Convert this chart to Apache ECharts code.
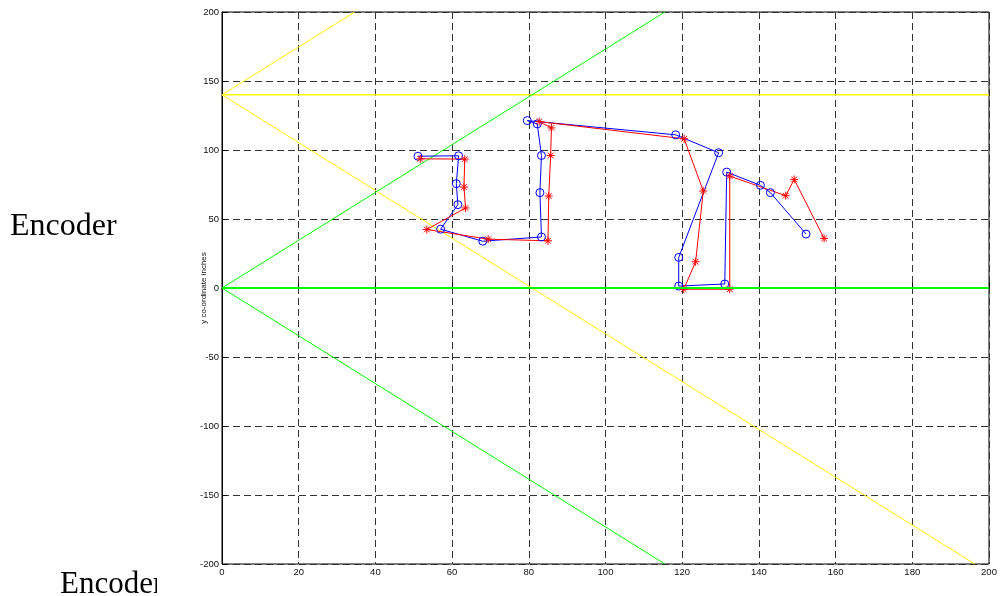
<!DOCTYPE html>
<html>
<head>
<meta charset="utf-8">
<script src="https://cdn.jsdelivr.net/npm/echarts@6/dist/echarts.min.js"></script>
<style>
  html, body { margin: 0; padding: 0; background: #fff; }
  #chart { width: 1000px; height: 596px; }
</style>
</head>
<body>
<div id="chart"></div>
<script>
// Encoder path (blue, circles) and measured path (red, asterisks), in inches
const encoderPath = [
  [51.1, 95.5], [61.7, 95.8], [61.1, 75.6], [61.5, 60.4], [57.0, 42.6],
  [68.0, 33.9], [83.3, 37.0], [82.9, 69.1], [83.3, 96.0], [82.2, 118.9],
  [79.6, 121.3], [118.3, 111.0], [129.5, 98.0], [119.1, 22.2], [119.1, 1.4],
  [131.1, 2.9], [131.6, 84.0], [140.4, 74.4], [143.0, 69.1], [152.3, 39.1]
];
const measuredPath = [
  [51.7, 93.6], [63.3, 93.4], [63.1, 73.1], [63.5, 58.0], [53.4, 42.4],
  [69.4, 35.4], [85.0, 34.2], [85.2, 66.6], [85.7, 96.0], [85.9, 116.0],
  [82.7, 120.6], [120.5, 108.1], [125.5, 70.3], [123.5, 19.0], [120.4, -0.9],
  [132.4, -0.9], [132.4, 81.1], [147.0, 66.9], [149.2, 78.7], [157.0, 35.9]
];
// Sensor field-of-view boundaries
const yellowCone = [[34.6, 200], [0, 140], [196.3, -200]];
const yellowAxis = [[0, 140], [200, 140]];
const greenCone = [[115.5, 200], [0, 0], [115.5, -200]];
const greenAxis = [[0, 0], [200, 0]];

const xTicks = { min: 0, max: 200, step: 20 };
const yTicks = { min: -200, max: 200, step: 50 };

const asterisk = 'path://M5,0L5,10M0,5L10,5M1.5,1.5L8.5,8.5M1.5,8.5L8.5,1.5';
const labelFont = { color: '#111', fontSize: 9.5, fontFamily: '"Liberation Sans", Arial, sans-serif' };
const gridLine = { show: true, lineStyle: { color: '#333', width: 1, type: [7, 4] } };
const serif = '"Liberation Serif", "Times New Roman", serif';

function guide(data, color, width) {
  return {
    type: 'line', data: data, symbol: 'none', silent: true, z: 1,
    lineStyle: { color: color, width: width || 1 }, animation: false
  };
}

const chart = echarts.init(document.getElementById('chart'), null, { renderer: 'canvas' });
chart.setOption({
  backgroundColor: '#fff',
  animation: false,
  grid: {
    left: 222, right: 11, top: 12, bottom: 32,
    show: true, borderColor: '#000', borderWidth: 1, backgroundColor: 'transparent'
  },
  xAxis: {
    type: 'value', min: xTicks.min, max: xTicks.max, interval: xTicks.step,
    axisLine: { show: true, lineStyle: { color: '#000' } },
    axisTick: { show: true, inside: true, length: 5, lineStyle: { color: '#000' } },
    axisLabel: Object.assign({ margin: 3 }, labelFont),
    splitLine: gridLine
  },
  yAxis: {
    type: 'value', min: yTicks.min, max: yTicks.max, interval: yTicks.step,
    name: 'y co-ordinate inches', nameLocation: 'middle', nameGap: 14, nameMoveOverlap: false,
    nameTextStyle: { color: '#111', fontSize: 8, fontFamily: '"Liberation Sans", Arial, sans-serif' },
    axisLine: { show: true, lineStyle: { color: '#000' } },
    axisTick: { show: true, inside: true, length: 5, lineStyle: { color: '#000' } },
    axisLabel: Object.assign({ margin: 3 }, labelFont),
    splitLine: gridLine
  },
  series: [
    guide(yellowCone, '#ffff00'),
    guide(yellowAxis, '#ffff00', 1.5),
    guide(greenCone, '#00ff00'),
    {
      type: 'line', data: encoderPath, z: 3,
      symbol: 'circle', symbolSize: 8,
      itemStyle: { color: 'rgba(0,0,0,0)', borderColor: '#0000ff', borderWidth: 1 },
      lineStyle: { color: '#0000ff', width: 1 }
    },
    {
      type: 'line', data: measuredPath, z: 3,
      symbol: asterisk, symbolSize: 8,
      itemStyle: { color: 'rgba(0,0,0,0)', borderColor: '#ff0000', borderWidth: 1 },
      lineStyle: { color: '#ff0000', width: 1 }
    },
    Object.assign(guide(greenAxis, '#00ff00', 2), { z: 4 })
  ],
  graphic: [
    {
      type: 'text', left: 10, top: 211, z: 10,
      style: { text: 'Encoder', fill: '#000', fontSize: 32, fontFamily: serif }
    },
    {
      type: 'text', left: 60, top: 569, z: 10,
      style: { text: 'Encoder', fill: '#000', fontSize: 31, fontFamily: serif }
    },
    {
      type: 'rect', shape: { x: 157, y: 570, width: 40, height: 26 }, z: 11,
      style: { fill: '#fff' }
    }
  ]
});
</script>
</body>
</html>
